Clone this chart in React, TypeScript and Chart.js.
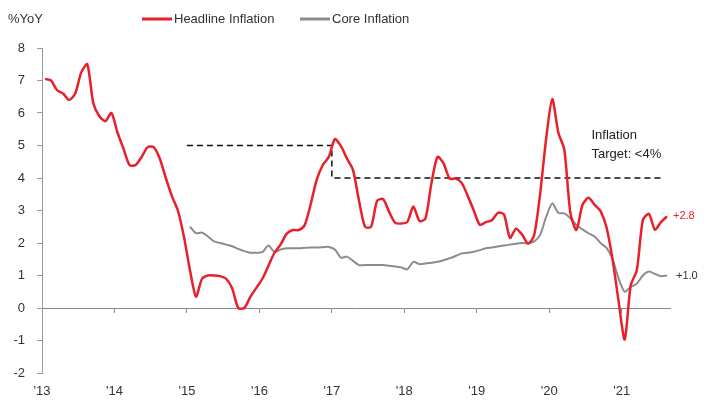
import React, { useEffect, useRef } from "react";
import { Chart, registerables } from "chart.js";

Chart.register(...registerables);

// Months counted from Jan 2013 (index 0)
const yearLabels = ["'13", "'14", "'15", "'16", "'17", "'18", "'19", "'20", "'21"];
const yTickValues = [-2, -1, 0, 1, 2, 3, 4, 5, 6, 7, 8];

const headlineStartMonth = 0; // Jan 2013
const headline = [
  // 2013
  7.05, 7.0, 6.7, 6.6, 6.4, 6.6, 7.25, 7.5, 6.3, 5.9, 5.75, 6.0,
  // 2014
  5.4, 4.9, 4.4, 4.4, 4.65, 4.95, 4.95, 4.6, 4.0, 3.45, 3.0, 2.2,
  // 2015
  1.17, 0.35, 0.9, 1.0, 1.0, 0.98, 0.9, 0.6, 0.0, 0.0, 0.34, 0.62,
  // 2016
  0.9, 1.3, 1.7, 1.95, 2.28, 2.4, 2.4, 2.55, 3.2, 3.95, 4.4, 4.65,
  // 2017
  5.2, 4.98, 4.6, 4.25, 3.3, 2.5, 2.5, 3.3, 3.35, 2.95, 2.62, 2.6,
  // 2018
  2.65, 3.12, 2.68, 2.75, 3.85, 4.65, 4.45, 3.98, 3.98, 3.85, 3.45, 3.0,
  // 2019
  2.56, 2.64, 2.7, 2.93, 2.88, 2.16, 2.44, 2.26, 1.98, 2.24, 3.52, 5.23,
  // 2020
  6.43, 5.4, 4.87, 2.93, 2.4, 3.17, 3.39, 3.18, 2.98, 2.47, 1.48, 0.19,
  // 2021
  -0.97, 0.7, 1.16, 2.7, 2.9, 2.41, 2.64, 2.82,
];

const coreStartMonth = 24; // Jan 2015
const core = [
  // 2015
  2.5, 2.3, 2.32, 2.2, 2.05, 2.0, 1.95, 1.9, 1.82, 1.75, 1.7, 1.7,
  // 2016
  1.72, 1.92, 1.72, 1.8, 1.84, 1.84, 1.84, 1.85, 1.86, 1.86, 1.87, 1.88,
  // 2017
  1.8, 1.55, 1.58, 1.45, 1.32, 1.32, 1.32, 1.32, 1.32, 1.3, 1.28, 1.25,
  // 2018
  1.19, 1.42, 1.35, 1.37, 1.39, 1.42, 1.47, 1.53, 1.6, 1.68, 1.7, 1.73,
  // 2019
  1.78, 1.84, 1.86, 1.89, 1.92, 1.95, 1.98, 2.0, 1.99, 2.05, 2.25, 2.81,
  // 2020
  3.22, 2.93, 2.91, 2.76, 2.55, 2.42, 2.3, 2.2, 2.0, 1.85, 1.5, 0.9,
  // 2021
  0.5, 0.65, 0.75, 1.0, 1.12, 1.05, 0.98, 1.0,
];

// Inflation target step line (month boundary, value)
const targetMonths = [24, 48, 48, 103];
const targetValues = [5, 5, 4, 4];

const headlineLabel = "Headline Inflation";
const coreLabel = "Core Inflation";
const unitLabel = "%YoY";
const targetText = ["Inflation", "Target: <4%"];
const targetTextAt = { month: 91, value: 5.3 };

const RED = "#e8202a";
const GREY = "#8c8c8c";
const TEXT = "#333333";
const FONT = "'Liberation Sans', Arial, sans-serif";

const yearTicks = (scale: any) => {
  scale.ticks = yearLabels.map((_, i) => ({ value: i * 12 }));
};

const overlay = {
  id: "overlay",
  afterDatasetsDraw(chart: any) {
    const { ctx, scales } = chart;
    const x = scales.x;
    const y = scales.y;
    ctx.save();
    ctx.textBaseline = "middle";
    ctx.textAlign = "left";
    ctx.font = `13px ${FONT}`;
    ctx.fillStyle = TEXT;
    ctx.fillText(unitLabel, 8, 19);

    // legend
    ctx.lineWidth = 3;
    ctx.strokeStyle = RED;
    ctx.beginPath();
    ctx.moveTo(142, 19);
    ctx.lineTo(172, 19);
    ctx.stroke();
    ctx.fillText(headlineLabel, 174, 19);
    ctx.strokeStyle = GREY;
    ctx.beginPath();
    ctx.moveTo(300, 19);
    ctx.lineTo(330, 19);
    ctx.stroke();
    ctx.fillText(coreLabel, 332, 19);

    // target text
    const tx = x.getPixelForValue(targetTextAt.month);
    const ty = y.getPixelForValue(targetTextAt.value);
    ctx.fillStyle = "#222";
    ctx.fillText(targetText[0], tx, ty);
    ctx.fillText(targetText[1], tx, ty + 19);

    // end labels
    ctx.font = `11px ${FONT}`;
    const hLast = headline[headline.length - 1];
    const hx = x.getPixelForValue(headlineStartMonth + headline.length - 0.5);
    ctx.fillStyle = RED;
    ctx.fillText("+" + hLast.toFixed(1), hx + 6, y.getPixelForValue(hLast));
    const cLast = core[core.length - 1];
    const cx = x.getPixelForValue(coreStartMonth + core.length - 0.5);
    ctx.fillStyle = TEXT;
    ctx.fillText("+" + cLast.toFixed(1), cx + 9, y.getPixelForValue(cLast));
    ctx.restore();
  },
};

export default function App() {
  const ref = useRef<HTMLCanvasElement | null>(null);
  useEffect(() => {
    if (!ref.current) return;
    const chart = new Chart(ref.current, {
      type: "line",
      data: {
        datasets: [
          {
            label: headlineLabel,
            data: headline.map((v, i) => ({ x: headlineStartMonth + i + 0.5, y: v })),
            borderColor: RED,
            borderWidth: 2.5,
            pointRadius: 0,
            tension: 0.25,
            xAxisID: "x",
            yAxisID: "y",
          },
          {
            label: coreLabel,
            data: core.map((v, i) => ({ x: coreStartMonth + i + 0.5, y: v })),
            borderColor: GREY,
            borderWidth: 2,
            pointRadius: 0,
            tension: 0.25,
            xAxisID: "x",
            yAxisID: "y",
          },
          {
            label: "Target",
            data: targetMonths.map((m, i) => ({ x: m, y: targetValues[i] })),
            borderColor: "#111",
            borderWidth: 1.5,
            borderDash: [6, 4],
            pointRadius: 0,
            tension: 0,
            xAxisID: "x",
            yAxisID: "y",
          },
        ],
      },
      options: {
        responsive: false,
        animation: false,
        devicePixelRatio: 1,
        layout: { padding: { top: 48, right: 38, bottom: 0, left: 0 } },
        plugins: { legend: { display: false }, tooltip: { enabled: false } },
        scales: {
          x: {
            type: "linear",
            min: 0,
            max: 104,
            position: "bottom",
            grid: { display: false },
            border: { display: false },
            afterBuildTicks: yearTicks,
            afterFit: (s: any) => {
              s.height = 27;
            },
            ticks: {
              autoSkip: false,
              maxRotation: 0,
              padding: 3,
              color: TEXT,
              font: { family: FONT, size: 13 },
              callback: (v: any) => yearLabels[Math.round(Number(v) / 12)] ?? "",
            },
          },
          xZero: {
            type: "linear",
            min: 0,
            max: 104,
            position: { y: 0 },
            grid: { display: true, drawOnChartArea: false, drawTicks: true, tickLength: 4, color: "#888" },
            border: { display: true, color: "#888", width: 1 },
            afterBuildTicks: yearTicks,
            ticks: { display: false },
          },
          y: {
            type: "linear",
            min: -2,
            max: 8,
            position: "left",
            afterBuildTicks: (s: any) => {
              s.ticks = yTickValues.map((v) => ({ value: v }));
            },
            afterFit: (s: any) => {
              s.width = 42;
            },
            grid: { display: true, drawOnChartArea: false, drawTicks: true, tickLength: 5, color: "#999" },
            border: { display: true, color: "#999", width: 1 },
            ticks: {
              padding: 12,
              color: TEXT,
              font: { family: FONT, size: 13 },
            },
          },
        },
      },
      plugins: [overlay],
    } as any);
    return () => chart.destroy();
  }, []);
  return (
    <div style={{ position: "fixed", left: 0, top: 0, width: 708, height: 400, background: "#fff" }}>
      <canvas ref={ref} width={708} height={400} style={{ width: 708, height: 400 }} />
    </div>
  );
}
